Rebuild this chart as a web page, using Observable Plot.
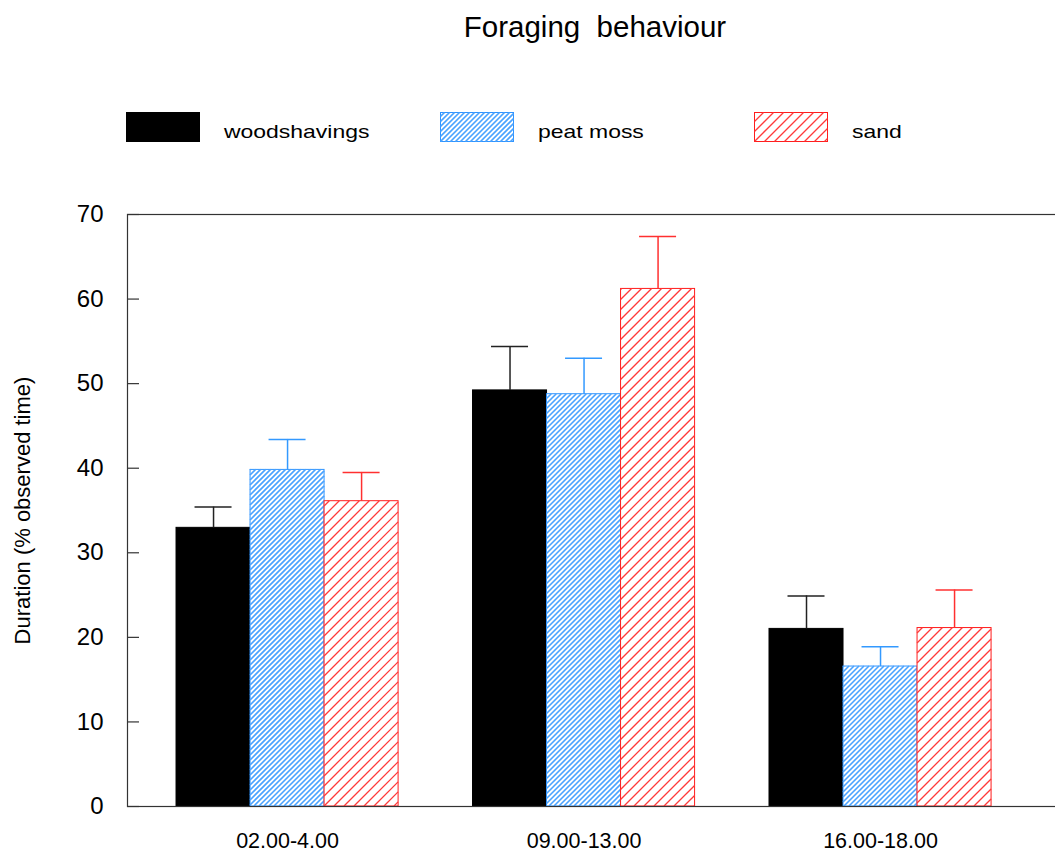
<!DOCTYPE html>
<html>
<head>
<meta charset="utf-8">
<script src="https://cdn.jsdelivr.net/npm/d3@7"></script>
<script src="https://cdn.jsdelivr.net/npm/@observablehq/plot@0.6"></script>
<style>
  body { margin: 0; background: #fff; font-family: "Liberation Sans", Arial, sans-serif; }
  #wrap { position: relative; width: 1055px; height: 852px; overflow: hidden; }
  #header { position: relative; width: 1055px; height: 180px; }
  #title { position: absolute; left: 345px; top: 12px; width: 500px; text-align: center;
           font-size: 29.5px; line-height: 1; white-space: pre; color: #000; }
  .sw { position: absolute; top: 112px; width: 74px; height: 30px; }
  .sw svg { display: block; }
  .lt { position: absolute; top: 123px; font-size: 18.5px; line-height: 1; white-space: pre;
        transform: scaleX(1.24); transform-origin: left top; color: #000; }
  #chart svg { display: block; }
</style>
</head>
<body>
<div id="wrap">
  <div id="header">
    <div id="title"></div>
    <div id="legend"></div>
  </div>
  <div id="chart"></div>
</div>
<script>
// ---- data ----
const titleText = "Foraging  behaviour";
const yLabel = "Duration (% observed time)";
const groups = ["02.00-4.00", "09.00-13.00", "16.00-18.00"];
const series = ["woodshavings", "peat moss", "sand"];
const woodshavings = [32.95, 49.2, 21.0];
const peatMoss = [39.8, 48.75, 16.55];
const sand = [36.1, 61.2, 21.1];
const woodshavingsErr = [2.45, 5.2, 3.9];
const peatMossErr = [3.6, 4.25, 2.35];
const sandErr = [3.4, 6.2, 4.5];
const yTicks = [0, 10, 20, 30, 40, 50, 60, 70];

// ---- styles ----
const fills = ["#000000", "#ffffff", "#ffffff"];
const strokes = ["#000000", "#2f94ff", "#ff1c1c"];
const hatchColors = [null, "#4aa3ff", "#ff3a3a"];
const hatchSpacing = [0, 5, 10];
const hatchWidth = [0, 1.6, 1.3];
const errColors = ["#222222", "#3399ff", "#ff3030"];
const NS = "http://www.w3.org/2000/svg";

// diagonal "/" hatch lines clipped analytically to a rectangle
function hatchPath(x0, y0, w, h, s) {
  const x1 = x0 + w, y1 = y0 + h;
  let d = "";
  for (let c = Math.ceil((x0 + y0) / s) * s; c <= x1 + y1; c += s) {
    const xa = Math.max(x0, c - y1), xb = Math.min(x1, c - y0);
    if (xb > xa) d += `M${xa.toFixed(2)},${(c - xa).toFixed(2)}L${xb.toFixed(2)},${(c - xb).toFixed(2)}`;
  }
  return d;
}
function addHatch(rect, i) {
  const x = +rect.getAttribute("x"), y = +rect.getAttribute("y");
  const w = +rect.getAttribute("width"), h = +rect.getAttribute("height");
  const p = document.createElementNS(NS, "path");
  p.setAttribute("d", hatchPath(x, y, w, h, hatchSpacing[i]));
  p.setAttribute("stroke", hatchColors[i]);
  p.setAttribute("stroke-width", hatchWidth[i]);
  p.setAttribute("fill", "none");
  rect.parentNode.insertBefore(p, rect.nextSibling);
}
function hatchRender(i) {
  return (index, scales, values, dimensions, context, next) => {
    const g = next(index, scales, values, dimensions, context);
    if (hatchColors[i]) Array.from(g.querySelectorAll("rect")).forEach(r => addHatch(r, i));
    return g;
  };
}

const values = [woodshavings, peatMoss, sand];
const errs = [woodshavingsErr, peatMossErr, sandErr];
const rows = [];
series.forEach((s, i) => groups.forEach((g, j) => rows.push({group: g, series: s, value: values[i][j], err: errs[i][j]})));

// title & legend
document.getElementById("title").textContent = titleText;
const legend = document.getElementById("legend");
const swX = [126, 440, 754];
series.forEach((s, i) => {
  const sw = document.createElement("div");
  sw.className = "sw";
  sw.style.left = swX[i] + "px";
  const svg = document.createElementNS(NS, "svg");
  svg.setAttribute("width", 74); svg.setAttribute("height", 30);
  const r = document.createElementNS(NS, "rect");
  r.setAttribute("x", 0.5); r.setAttribute("y", 0.5); r.setAttribute("width", 73); r.setAttribute("height", 29);
  r.setAttribute("fill", fills[i]); r.setAttribute("stroke", strokes[i]); r.setAttribute("stroke-width", 1);
  svg.appendChild(r);
  if (hatchColors[i]) addHatch(r, i);
  sw.appendChild(svg);
  legend.appendChild(sw);
  const t = document.createElement("div");
  t.className = "lt";
  t.style.left = (swX[i] + 98) + "px";
  t.textContent = s;
  legend.appendChild(t);
});

// ---- chart ----
const W = 1055, H = 672, mL = 127, mR = 0, mT = 34, mB = 46;
const xOpts = {paddingInner: 0.251, paddingOuter: 0.1905, align: 0.434};
const xb = d3.scaleBand().domain(groups).range([mL, W - mR])
  .paddingInner(xOpts.paddingInner).paddingOuter(xOpts.paddingOuter).align(xOpts.align);
const bw = xb.bandwidth() / 3;
const capW = 37;

const marks = [];
series.forEach((s, i) => {
  const data = rows.filter(r => r.series === s);
  marks.push(Plot.barY(data, {x: "group", y: "value", fill: fills[i], stroke: strokes[i], strokeWidth: 1,
    insetLeft: i * bw, insetRight: (2 - i) * bw, render: hatchRender(i)}));
});
series.forEach((s, i) => {
  const data = rows.filter(r => r.series === s);
  marks.push(Plot.ruleX(data, {x: "group", y1: "value", y2: d => d.value + d.err, stroke: errColors[i], strokeWidth: 1.5, dx: (i - 1) * bw}));
  marks.push(Plot.tickY(data, {x: "group", y: d => d.value + d.err, stroke: errColors[i], strokeWidth: 1.5,
    insetLeft: i * bw + (bw - capW) / 2, insetRight: (2 - i) * bw + (bw - capW) / 2}));
});
marks.push(Plot.tickY(yTicks, {y: d => d, stroke: "#333", strokeWidth: 1.2, insetRight: (W - mL - mR) - 12}));
marks.push(Plot.frame({stroke: "#333", strokeWidth: 1.2, insetRight: -4}));
marks.push(Plot.axisY({ticks: yTicks, tickSize: 0, tickPadding: 24, fontSize: 24, label: null}));
marks.push(Plot.axisX({tickSize: 0, tickPadding: 26, fontSize: 21.5, label: null}));
marks.push(Plot.text([yLabel], {frameAnchor: "left", textAnchor: "middle", lineAnchor: "middle", dx: -105, rotate: -90, fontSize: 22, fill: "#000"}));

const chart = Plot.plot({
  width: W, height: H,
  marginLeft: mL, marginRight: mR, marginTop: mT, marginBottom: mB,
  style: {fontFamily: "Liberation Sans, Arial, sans-serif", fontSize: "19px", background: "#fff", color: "#000"},
  x: {type: "band", domain: groups, round: false, ...xOpts},
  y: {domain: [0, 70]},
  marks
});
document.getElementById("chart").appendChild(chart);
</script>
</body>
</html>
